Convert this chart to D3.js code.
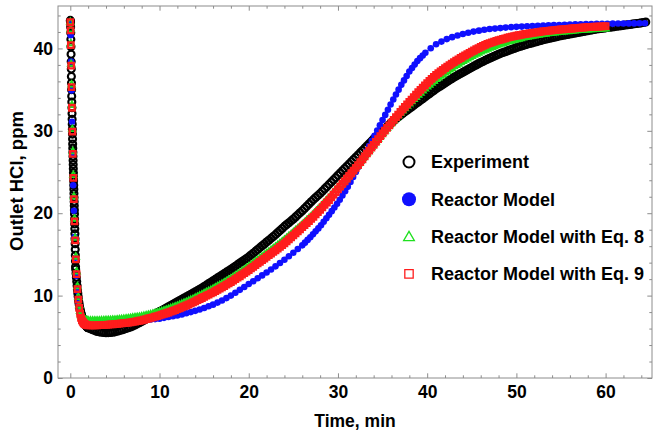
<!DOCTYPE html>
<html>
<head>
<meta charset="utf-8">
<script src="https://cdn.jsdelivr.net/npm/d3@7"></script>
<style>
  body { margin: 0; background: #fff; }
  svg { display: block; font-family: "Liberation Sans", Arial, sans-serif; font-weight: bold; }
</style>
</head>
<body>
<div id="chart"></div>
<script>
// ---- Experiment (outlet HCl, ppm), three sampling blocks ----
const expFastStart = 0, expFastStep = 0.012;
const expFast = [
  43.4, 43.3, 43.1, 42.6, 41.9, 41.1, 40.2, 39.3, 38.4, 37.5,
  36.6, 35.8, 35.0, 34.2, 33.5, 32.8, 32.1, 31.4, 30.8, 30.2,
  29.6, 29.0, 28.4, 27.9, 27.4, 26.9, 26.4, 25.9, 25.4, 24.9,
  24.4, 23.9, 23.4, 22.9, 22.4, 21.9, 21.4, 20.9, 20.4, 19.9,
  19.3, 18.7, 18.1, 17.5, 16.9, 16.3, 15.6, 14.9, 14.2, 13.5
];
const expMidStart = 0.6, expMidStep = 0.04;
const expMid = [
  13.2, 12.7, 12.2, 11.7, 11.2, 10.7, 10.3, 9.9, 9.5, 9.2,
  8.9, 8.6, 8.4, 8.2, 8.0, 7.8, 7.7, 7.5, 7.4, 7.3,
  7.2, 7.1, 7.0, 6.9, 6.8, 6.7, 6.6, 6.5, 6.45, 6.4,
  6.3, 6.25, 6.2, 6.15, 6.1
];
const expSlowStart = 2, expSlowStep = 0.25;
const expSlow = [
  6.10, 5.98, 5.86, 5.75, 5.65, 5.60, 5.55, 5.52,
  5.50, 5.51, 5.53, 5.56, 5.60, 5.67, 5.75, 5.82,
  5.90, 6.00, 6.10, 6.20, 6.30, 6.43, 6.57, 6.71,
  6.85, 7.00, 7.15, 7.30, 7.45, 7.60, 7.75, 7.90,
  8.05, 8.20, 8.35, 8.50, 8.65, 8.80, 8.95, 9.10,
  9.25, 9.40, 9.55, 9.70, 9.85, 10.0, 10.15, 10.3,
  10.45, 10.6, 10.77, 10.93, 11.1, 11.27, 11.45, 11.62,
  11.8, 11.97, 12.15, 12.32, 12.5, 12.67, 12.85, 13.02,
  13.2, 13.39, 13.57, 13.76, 13.95, 14.14, 14.32, 14.51,
  14.7, 14.92, 15.15, 15.37, 15.6, 15.82, 16.05, 16.27,
  16.5, 16.72, 16.95, 17.17, 17.4, 17.65, 17.9, 18.15,
  18.4, 18.62, 18.85, 19.07, 19.3, 19.55, 19.8, 20.05,
  20.3, 20.57, 20.85, 21.12, 21.4, 21.65, 21.9, 22.15,
  22.4, 22.67, 22.95, 23.22, 23.5, 23.77, 24.05, 24.32,
  24.6, 24.87, 25.15, 25.42, 25.7, 25.97, 26.25, 26.52,
  26.8, 27.07, 27.35, 27.62, 27.9, 28.17, 28.45, 28.72,
  29.0, 29.25, 29.5, 29.75, 30.0, 30.25, 30.5, 30.75,
  31.0, 31.22, 31.45, 31.67, 31.9, 32.1, 32.3, 32.5,
  32.7, 32.9, 33.1, 33.3, 33.5, 33.7, 33.9, 34.1,
  34.3, 34.5, 34.7, 34.9, 35.1, 35.27, 35.45, 35.62,
  35.8, 35.97, 36.15, 36.32, 36.5, 36.65, 36.8, 36.95,
  37.1, 37.25, 37.4, 37.55, 37.7, 37.85, 38.0, 38.15,
  38.3, 38.42, 38.55, 38.67, 38.8, 38.92, 39.05, 39.17,
  39.3, 39.4, 39.5, 39.6, 39.7, 39.8, 39.9, 40.0,
  40.1, 40.19, 40.27, 40.36, 40.45, 40.52, 40.6, 40.67,
  40.75, 40.82, 40.9, 40.97, 41.05, 41.11, 41.17, 41.24,
  41.3, 41.36, 41.42, 41.49, 41.55, 41.6, 41.65, 41.7,
  41.75, 41.8, 41.85, 41.9, 41.95, 42.0, 42.05, 42.1,
  42.15, 42.2, 42.25, 42.3, 42.35, 42.39, 42.43, 42.46,
  42.5, 42.54, 42.58, 42.61, 42.65, 42.69, 42.73, 42.76,
  42.8, 42.84, 42.88, 42.91, 42.95, 42.99, 43.03, 43.06,
  43.1, 43.15, 43.2
];

// ---- Reactor Model (blue) ----
const reactorEarly = [
  [0, 43.2], [0.04, 41.6], [0.09, 38.4], [0.14, 34.9], [0.19, 31.1], [0.25, 27.2],
  [0.32, 23.4], [0.4, 20.3], [0.48, 17.1], [0.57, 14.6], [0.67, 12.4], [0.78, 10.6],
  [0.9, 9.3], [1.03, 8.3], [1.17, 7.6], [1.32, 7.1], [1.5, 6.8], [1.7, 6.65]
];
const reactorMidStart = 2, reactorMidStep = 0.5;
const reactorMid = [
  6.6, 6.62, 6.65, 6.67, 6.7, 6.75, 6.8, 6.82, 6.85, 6.87, 6.9, 6.95,
  7.0, 7.05, 7.1, 7.15, 7.2, 7.3, 7.4, 7.5, 7.6, 7.72, 7.85, 8.0,
  8.15, 8.32, 8.5, 8.7, 8.9, 9.15, 9.4, 9.7, 10.0, 10.35, 10.7, 11.05,
  11.4, 11.75, 12.1, 12.45, 12.8, 13.17, 13.55, 13.95, 14.35, 14.77, 15.2, 15.65
];
const reactorSteepStart = 26, reactorSteepStep = 0.3;
const reactorSteep = [
  16.1, 16.43, 16.76, 17.09, 17.44, 17.8, 18.16, 18.54, 18.96, 19.38,
  19.8, 20.25, 20.7, 21.15, 21.64, 22.15, 22.66, 23.2, 23.8, 24.4,
  25.0, 25.63, 26.26, 26.89, 27.52, 28.15, 28.78, 29.41, 30.04, 30.67,
  31.3, 31.93, 32.56, 33.19, 33.8, 34.4, 35.0, 35.58, 36.12, 36.66,
  37.2, 37.62, 38.04, 38.46, 38.82, 39.15, 39.48
];
const reactorLateStart = 40.4, reactorLateStep = 0.6;
const reactorLate = [
  40.02, 40.5, 40.83, 41.13, 41.37, 41.57, 41.75, 41.9, 42.04, 42.16,
  42.26, 42.35, 42.41, 42.47, 42.53, 42.58, 42.62, 42.65, 42.69, 42.72,
  42.75, 42.77, 42.8, 42.83, 42.85, 42.88, 42.9, 42.92, 42.93, 42.95,
  42.96, 42.98, 42.99, 43.0, 43.01, 43.02, 43.03, 43.04, 43.04, 43.05, 43.05
];

// ---- Reactor Model with Eq. 8 (green) and Eq. 9 (red) ----
const eqEarlyTimes = [0, 0.03, 0.06, 0.1, 0.14, 0.18, 0.23, 0.28, 0.34, 0.4, 0.47, 0.54, 0.62,
  0.7, 0.8, 0.9, 1.0, 1.1, 1.2, 1.3, 1.4, 1.5, 1.6, 1.7, 1.8, 1.9];
const eq8Early = [43.2, 42.3, 40.6, 38.1, 35.6, 33.1, 30.2, 27.5, 24.6, 22.0, 19.3, 17.0, 14.7,
  12.9, 11.1, 9.8, 8.8, 8.1, 7.6, 7.35, 7.2, 7.1, 7.05, 7.0, 6.97, 6.95];
const eq9Early = [43.2, 42.2, 40.4, 37.9, 35.3, 32.8, 29.9, 27.2, 24.3, 21.7, 19.0, 16.7, 14.4,
  12.6, 10.8, 9.5, 8.5, 7.8, 7.3, 7.0, 6.8, 6.65, 6.55, 6.5, 6.45, 6.42];
const eqStart = 2, eqStep = 0.25;
const eq8Values = [
  6.95, 6.95, 6.95, 6.95, 6.95, 6.96, 6.97, 6.99,
  7.00, 7.01, 7.02, 7.04, 7.05, 7.07, 7.10, 7.12,
  7.15, 7.19, 7.22, 7.26, 7.30, 7.34, 7.37, 7.41,
  7.45, 7.51, 7.57, 7.64, 7.70, 7.77, 7.85, 7.92,
  8.00, 8.09, 8.17, 8.26, 8.35, 8.45, 8.55, 8.65,
  8.75, 8.86, 8.97, 9.09, 9.20, 9.32, 9.45, 9.57,
  9.70, 9.84, 9.97, 10.11, 10.25, 10.39, 10.52, 10.66,
  10.80, 10.95, 11.10, 11.25, 11.40, 11.56, 11.72, 11.89,
  12.05, 12.22, 12.40, 12.57, 12.75, 12.94, 13.12, 13.31,
  13.50, 13.70, 13.90, 14.10, 14.30, 14.50, 14.70, 14.90,
  15.10, 15.30, 15.50, 15.70, 15.90, 16.11, 16.32, 16.54,
  16.75, 16.97, 17.20, 17.42, 17.65, 17.89, 18.12, 18.36,
  18.60, 18.85, 19.10, 19.35, 19.60, 19.87, 20.15, 20.42,
  20.70, 20.99, 21.27, 21.56, 21.85, 22.16, 22.47, 22.79,
  23.10, 23.41, 23.72, 24.04, 24.35, 24.67, 25.00, 25.32,
  25.65, 25.99, 26.32, 26.66, 27.00, 27.34, 27.67, 28.01,
  28.35, 28.69, 29.02, 29.36, 29.70, 30.01, 30.32, 30.64,
  30.95, 31.25, 31.55, 31.85, 32.15, 32.44, 32.72, 33.01,
  33.30, 33.56, 33.82, 34.09, 34.35, 34.60, 34.85, 35.10,
  35.35, 35.57, 35.80, 36.02, 36.25, 36.45, 36.65, 36.85,
  37.05, 37.24, 37.42, 37.61, 37.80, 37.96, 38.12, 38.29,
  38.45, 38.60, 38.75, 38.90, 39.05, 39.19, 39.32, 39.46,
  39.60, 39.71, 39.82, 39.94, 40.05, 40.15, 40.25, 40.35,
  40.45, 40.54, 40.62, 40.71, 40.80, 40.87, 40.95, 41.02,
  41.10, 41.16, 41.22, 41.29, 41.35, 41.40, 41.45, 41.50,
  41.55, 41.59, 41.63, 41.68, 41.72, 41.76, 41.80, 41.83,
  41.87, 41.90, 41.94, 41.97, 42.00, 42.02, 42.05, 42.07,
  42.10, 42.12, 42.15, 42.17, 42.20, 42.22, 42.24, 42.26,
  42.28, 42.30, 42.31, 42.33, 42.35, 42.36, 42.38, 42.39,
  42.40
];
const eq9Values = [
  6.40, 6.40, 6.40, 6.40, 6.40, 6.41, 6.42, 6.44,
  6.45, 6.47, 6.50, 6.52, 6.55, 6.57, 6.60, 6.62,
  6.65, 6.69, 6.72, 6.76, 6.80, 6.85, 6.90, 6.95,
  7.00, 7.07, 7.15, 7.22, 7.30, 7.37, 7.45, 7.52,
  7.60, 7.69, 7.77, 7.86, 7.95, 8.05, 8.15, 8.25,
  8.35, 8.46, 8.57, 8.69, 8.80, 8.92, 9.05, 9.17,
  9.30, 9.44, 9.57, 9.71, 9.85, 9.99, 10.12, 10.26,
  10.40, 10.55, 10.70, 10.85, 11.00, 11.16, 11.32, 11.49,
  11.65, 11.82, 12.00, 12.17, 12.35, 12.54, 12.72, 12.91,
  13.10, 13.30, 13.50, 13.70, 13.90, 14.10, 14.30, 14.50,
  14.70, 14.90, 15.10, 15.30, 15.50, 15.71, 15.92, 16.14,
  16.35, 16.59, 16.82, 17.06, 17.30, 17.55, 17.80, 18.05,
  18.30, 18.55, 18.80, 19.05, 19.30, 19.57, 19.85, 20.12,
  20.40, 20.70, 21.00, 21.30, 21.60, 21.92, 22.25, 22.57,
  22.90, 23.22, 23.55, 23.87, 24.20, 24.52, 24.85, 25.17,
  25.50, 25.85, 26.20, 26.55, 26.90, 27.25, 27.60, 27.95,
  28.30, 28.65, 29.00, 29.35, 29.70, 30.02, 30.35, 30.67,
  31.00, 31.32, 31.65, 31.97, 32.30, 32.60, 32.90, 33.20,
  33.50, 33.80, 34.10, 34.40, 34.70, 34.97, 35.25, 35.52,
  35.80, 36.05, 36.30, 36.55, 36.80, 37.00, 37.20, 37.40,
  37.60, 37.79, 37.97, 38.16, 38.35, 38.51, 38.67, 38.84,
  39.00, 39.15, 39.30, 39.45, 39.60, 39.75, 39.90, 40.05,
  40.20, 40.31, 40.42, 40.54, 40.65, 40.74, 40.82, 40.91,
  41.00, 41.07, 41.15, 41.22, 41.30, 41.36, 41.42, 41.49,
  41.55, 41.60, 41.65, 41.70, 41.75, 41.79, 41.83, 41.88,
  41.92, 41.96, 41.99, 42.03, 42.07, 42.10, 42.14, 42.17,
  42.20, 42.22, 42.25, 42.27, 42.30, 42.32, 42.35, 42.37,
  42.40, 42.42, 42.45, 42.47, 42.50, 42.52, 42.54, 42.56,
  42.58, 42.60, 42.61, 42.63, 42.65, 42.66, 42.68, 42.69,
  42.70
];

// axis ticks
const xMajorTicks = [0, 10, 20, 30, 40, 50, 60];
const yMajorTicks = [0, 10, 20, 30, 40];
const legendLabels = ["Experiment", "Reactor Model", "Reactor Model with Eq. 8", "Reactor Model with Eq. 9"];

// helpers to turn a regular block into [t, v] points
const block = (start, step, vals) => vals.map((v, i) => [start + i * step, v]);

const experiment = [
  ...block(expFastStart, expFastStep, expFast),
  ...block(expMidStart, expMidStep, expMid),
  ...block(expSlowStart, expSlowStep, expSlow)
];
const reactor = [
  ...reactorEarly,
  ...block(reactorMidStart, reactorMidStep, reactorMid),
  ...block(reactorSteepStart, reactorSteepStep, reactorSteep),
  ...block(reactorLateStart, reactorLateStep, reactorLate)
];
const eq8 = [...eqEarlyTimes.map((t, i) => [t, eq8Early[i]]), ...block(eqStart, eqStep, eq8Values)];
const eq9 = [...eqEarlyTimes.map((t, i) => [t, eq9Early[i]]), ...block(eqStart, eqStep, eq9Values)];

const width = 655, height = 431;
const margin = { top: 6, right: 3, bottom: 53, left: 58 };

const svg = d3.select("#chart").append("svg")
  .attr("width", width)
  .attr("height", height);

const x = d3.scaleLinear().domain([-1.38, 65.2]).range([margin.left, width - margin.right]);
const y = d3.scaleLinear().domain([0, 45.15]).range([height - margin.bottom, margin.top]);

const frameColor = "#8c8c8c";
const xMinor = d3.range(2, 65, 2).filter(v => v % 10 !== 0);
const yMinor = d3.range(2, 45, 2).filter(v => v % 10 !== 0);

// axes: ticks pointing inward, labels only on bottom/left
function drawAxis(axisGen, transform, labels) {
  const g = svg.append("g").attr("transform", transform).call(axisGen);
  g.select(".domain").remove();
  g.selectAll(".tick line").attr("stroke", frameColor);
  g.selectAll(".tick text")
    .attr("fill", "#000")
    .attr("font-size", 17.5)
    .attr("font-family", "'Liberation Sans', Arial, sans-serif")
    .attr("font-weight", "bold");
  if (!labels) g.selectAll(".tick text").remove();
  return g;
}
const bottomY = height - margin.bottom, rightX = width - margin.right;
drawAxis(d3.axisBottom(x).tickValues(xMajorTicks).tickSize(-4.7).tickPadding(8).tickFormat(d3.format("d")), `translate(0,${bottomY})`, true);
drawAxis(d3.axisBottom(x).tickValues(xMinor).tickSize(-2.7).tickFormat(""), `translate(0,${bottomY})`, false);
drawAxis(d3.axisTop(x).tickValues(xMajorTicks).tickSize(-4.7), `translate(0,${margin.top})`, false);
drawAxis(d3.axisTop(x).tickValues(xMinor).tickSize(-2.7), `translate(0,${margin.top})`, false);
drawAxis(d3.axisLeft(y).tickValues(yMajorTicks).tickSize(-4.7).tickPadding(5).tickFormat(d3.format("d")), `translate(${margin.left},0)`, true);
drawAxis(d3.axisLeft(y).tickValues(yMinor).tickSize(-2.7).tickFormat(""), `translate(${margin.left},0)`, false);
drawAxis(d3.axisRight(y).tickValues(yMajorTicks).tickSize(-4.7), `translate(${rightX},0)`, false);
drawAxis(d3.axisRight(y).tickValues(yMinor).tickSize(-2.7), `translate(${rightX},0)`, false);

svg.append("rect")
  .attr("x", margin.left).attr("y", margin.top)
  .attr("width", rightX - margin.left).attr("height", bottomY - margin.top)
  .attr("fill", "none").attr("stroke", frameColor).attr("stroke-width", 1);

// axis titles
svg.append("text")
  .attr("x", (margin.left + rightX) / 2).attr("y", 427)
  .attr("text-anchor", "middle").attr("font-size", 17.5)
  .text("Time, min");
svg.append("text")
  .attr("transform", "translate(23,181) rotate(-90)")
  .attr("text-anchor", "middle").attr("font-size", 18.5)
  .text("Outlet HCl, ppm");

const plot = svg.append("g");

const colors = { exp: "#000", reactor: "#1010ff", eq8: "#1fe01f", eq9: "#ff1c1c" };
const triangle = d3.symbol().type(d3.symbolTriangle).size(18);
const square = d3.symbol().type(d3.symbolSquare).size(30);

plot.append("g").selectAll("circle").data(experiment).join("circle")
  .attr("cx", d => x(d[0])).attr("cy", d => y(d[1])).attr("r", 3.5)
  .attr("fill", "none").attr("stroke", colors.exp).attr("stroke-width", 2.1);

plot.append("g").selectAll("circle").data(reactor).join("circle")
  .attr("cx", d => x(d[0])).attr("cy", d => y(d[1])).attr("r", 3.3)
  .attr("fill", colors.reactor);

plot.append("g").selectAll("path").data(eq8).join("path")
  .attr("transform", d => `translate(${x(d[0])},${y(d[1])})`)
  .attr("d", triangle).attr("fill", "none").attr("stroke", colors.eq8).attr("stroke-width", 1.8);

plot.append("g").selectAll("path").data(eq9).join("path")
  .attr("transform", d => `translate(${x(d[0])},${y(d[1])})`)
  .attr("d", square).attr("fill", "none").attr("stroke", colors.eq9).attr("stroke-width", 2.3);

// legend
const legend = svg.append("g").attr("transform", "translate(409,162)");
const rows = legend.selectAll("g").data(legendLabels).join("g")
  .attr("transform", (d, i) => `translate(0,${i * 37.3})`);
rows.append("text").attr("x", 22).attr("dy", "0.35em").attr("font-size", 18).text(d => d);
rows.filter((d, i) => i === 0).append("circle").attr("r", 5.5)
  .attr("fill", "none").attr("stroke", colors.exp).attr("stroke-width", 2);
rows.filter((d, i) => i === 1).append("circle").attr("r", 7).attr("fill", colors.reactor);
rows.filter((d, i) => i === 2).append("path")
  .attr("d", d3.symbol().type(d3.symbolTriangle).size(50))
  .attr("transform", "translate(0,1)")
  .attr("fill", "none").attr("stroke", colors.eq8).attr("stroke-width", 1.3);
rows.filter((d, i) => i === 3).append("path")
  .attr("d", d3.symbol().type(d3.symbolSquare).size(70))
  .attr("fill", "none").attr("stroke", colors.eq9).attr("stroke-width", 1.3);
</script>
</body>
</html>
